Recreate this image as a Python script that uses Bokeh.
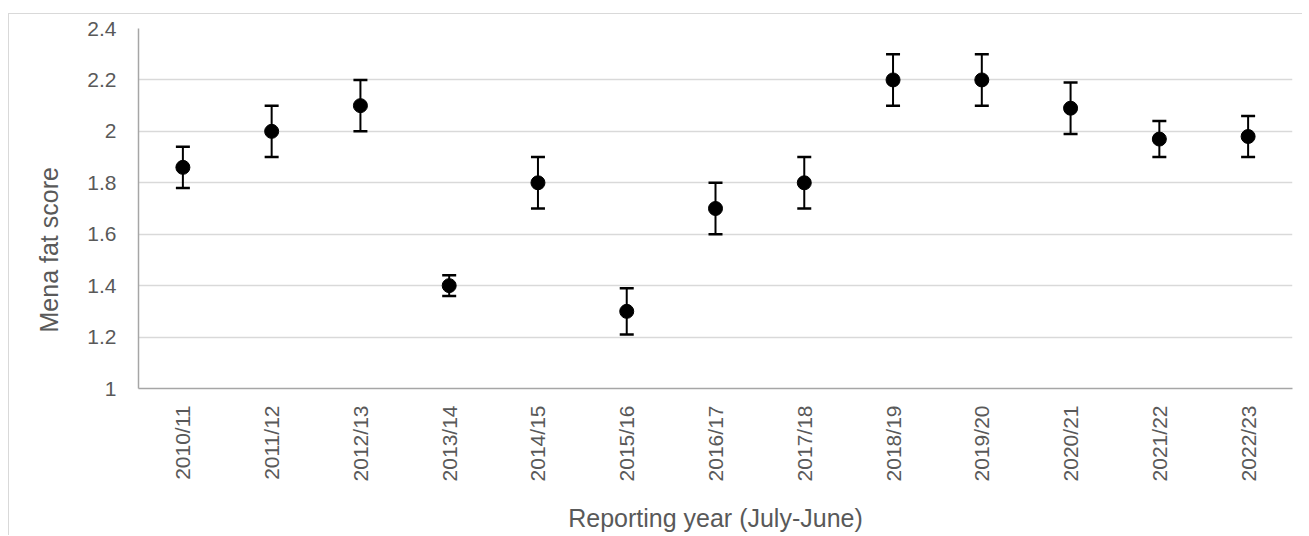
import math
from bokeh.plotting import figure
from bokeh.models import ColumnDataSource, Whisker, TeeHead, FixedTicker, Title
from bokeh.embed import file_html
from bokeh.resources import INLINE

years = ["2010/11", "2011/12", "2012/13", "2013/14", "2014/15", "2015/16", "2016/17",
         "2017/18", "2018/19", "2019/20", "2020/21", "2021/22", "2022/23"]
means = [1.86, 2.00, 2.10, 1.40, 1.80, 1.30, 1.70, 1.80, 2.20, 2.20, 2.09, 1.97, 1.98]
upper = [1.94, 2.10, 2.20, 1.44, 1.90, 1.39, 1.80, 1.90, 2.30, 2.30, 2.19, 2.04, 2.06]
lower = [1.78, 1.90, 2.00, 1.36, 1.70, 1.21, 1.60, 1.70, 2.10, 2.10, 1.99, 1.90, 1.90]
y_ticks = [1, 1.2, 1.4, 1.6, 1.8, 2, 2.2, 2.4]
y_title = "Mena fat score"
x_title = "Reporting year (July-June)"

src = ColumnDataSource(dict(x=years, y=means, upper=upper, lower=lower))

FONT = "Liberation Sans"
TXT = "#595959"

p = figure(x_range=years, y_range=(1, 2.4), frame_width=1154, frame_height=360,
           output_backend="svg", toolbar_location=None,
           min_border_left=129, min_border_right=10, min_border_top=14, min_border_bottom=134)
p.margin = (13, 0, 0, 8)
p.styles = {"border-top": "1px solid #d9d9d9", "border-left": "1px solid #d9d9d9"}
p.outline_line_color = None
p.background_fill_color = "white"

p.xgrid.grid_line_color = None
p.ygrid.grid_line_color = "#d9d9d9"
p.ygrid.grid_line_width = 1.5

p.yaxis.ticker = FixedTicker(ticks=y_ticks)
p.yaxis.major_label_overrides = {1: "1", 2: "2"}
for ax in (p.xaxis, p.yaxis):
    ax.axis_line_color = "#a6a6a6"
    ax.axis_line_width = 1.5
    ax.major_tick_line_color = None
    ax.minor_tick_line_color = None
    ax.major_tick_out = 0
    ax.major_tick_in = 0
    ax.minor_tick_out = 0
    ax.major_label_text_font = FONT
    ax.major_label_text_font_size = "21px"
    ax.major_label_text_color = TXT
    ax.axis_label_text_font = FONT
    ax.axis_label_text_font_size = "25px"
    ax.axis_label_text_font_style = "normal"
    ax.axis_label_text_color = TXT

p.xaxis.major_label_orientation = math.pi / 2
p.xaxis.major_label_standoff = 17
p.xaxis.axis_label = x_title
p.xaxis.axis_label_standoff = 20
p.yaxis.major_label_standoff = 22

# y-axis title, sitting lower than the frame centre as in the reference
ytitle = Title(text=y_title, align="left", offset=56, standoff=43,
               text_font=FONT, text_font_size="25px", text_color=TXT,
               text_font_style="normal")
p.add_layout(ytitle, "left")

w = Whisker(source=src, base="x", upper="upper", lower="lower",
            line_color="black", line_width=2,
            upper_head=TeeHead(size=14, line_color="black", line_width=2.5),
            lower_head=TeeHead(size=14, line_color="black", line_width=2.5))
p.add_layout(w)
p.scatter("x", "y", source=src, size=14, color="black")

open("out.html", "w").write(file_html(p, INLINE))
